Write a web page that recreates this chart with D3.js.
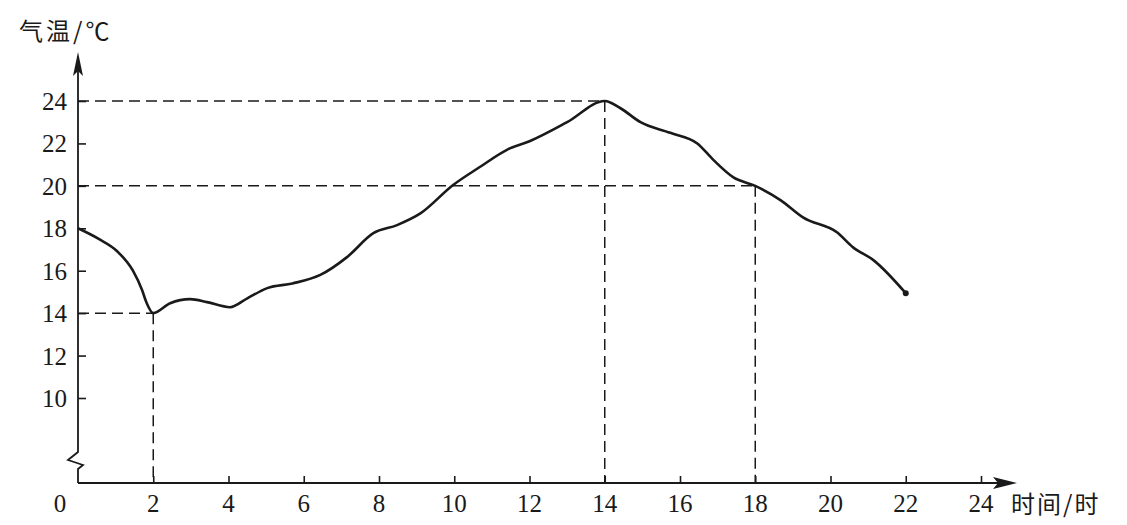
<!DOCTYPE html>
<html><head><meta charset="utf-8">
<script src="https://cdn.jsdelivr.net/npm/d3@7"></script>
<style>body{margin:0;background:#fff}svg{display:block}</style>
</head><body>
<svg id="c" width="1127" height="525"></svg>
<script>
const hours = [0,0.55,1.04,1.46,1.7,1.82,2,2.45,2.98,3.43,4.04,4.5,5.03,5.7,6.44,7.15,7.85,8.48,9.1,9.97,10.69,11.4,12,13,14,14.41,14.95,15.74,16.46,16.9,17.42,18,18.67,19.28,20.18,20.6,21.14,22];
const temps = [18,17.5,16.92,16.0,15.1,14.5,14,14.47,14.66,14.52,14.28,14.7,15.18,15.4,15.8,16.64,17.77,18.15,18.7,20.04,20.9,21.7,22.1,23.0,24,23.67,23.0,22.5,22.0,21.2,20.4,20.0,19.33,18.5,17.8,17.1,16.5,14.94];
const xTicks = [2,4,6,8,10,12,14,16,18,20,22,24];
const yTicks = [10,12,14,16,18,20,22,24];
const marks = [{h:2,t:14},{h:14,t:24},{h:18,t:20}];
const yLabel = "气温/℃";
const xLabel = "时间/时";

const svg = d3.select("#c");
const x = d3.scaleLinear().domain([0,24]).range([78,981]);
const y = d3.scaleLinear().domain([10,24]).range([398,101]);
const y0 = 483;
const ax = x(0);
const ink = "#1a1a1a";
const numFont = "'Liberation Serif', 'Times New Roman', serif";
const cjkFont = "'Noto Sans CJK SC', sans-serif";

const dash = "11,6";
marks.forEach(m=>{
  svg.append("line").attr("x1",ax).attr("x2",x(m.h)).attr("y1",y(m.t)).attr("y2",y(m.t))
    .attr("stroke",ink).attr("stroke-width",1.5).attr("stroke-dasharray",dash);
  svg.append("line").attr("x1",x(m.h)).attr("x2",x(m.h)).attr("y1",y(m.t)).attr("y2",y0)
    .attr("stroke",ink).attr("stroke-width",1.5).attr("stroke-dasharray",dash);
});

const yAxisPath = d3.path();
yAxisPath.moveTo(ax,68);
yAxisPath.lineTo(ax,452);
yAxisPath.lineTo(ax-10,460);
yAxisPath.lineTo(ax+5,465);
yAxisPath.lineTo(ax,469);
yAxisPath.lineTo(ax,y0);
svg.append("path").attr("d",yAxisPath.toString()).attr("fill","none").attr("stroke",ink).attr("stroke-width",1.8);
svg.append("path").attr("d",`M${ax},52 L${ax-5},76 L${ax},71 L${ax+5},76 Z`).attr("fill",ink);

svg.append("line").attr("x1",ax).attr("x2",1005).attr("y1",y0).attr("y2",y0).attr("stroke",ink).attr("stroke-width",2);
svg.append("path").attr("d",`M1017,${y0} L993,${y0-6} L998,${y0} L993,${y0+6} Z`).attr("fill",ink);

const yAx = d3.axisRight(y).tickValues(yTicks).tickSize(8).tickFormat("");
const gy = svg.append("g").attr("transform",`translate(${ax},0)`).call(yAx);
gy.select(".domain").remove();
gy.selectAll("line").attr("stroke",ink).attr("stroke-width",1.6);
svg.selectAll(".ylab").data(yTicks).enter().append("text")
  .style("font-family",numFont)
  .attr("x",67).attr("y",d=>y(d)+9).attr("text-anchor","end")
  .attr("font-size",25).attr("fill",ink).text(d=>d);

const xAx = d3.axisTop(x).tickValues(xTicks).tickSize(7).tickFormat("");
const gx = svg.append("g").attr("transform",`translate(0,${y0})`).call(xAx);
gx.select(".domain").remove();
gx.selectAll("line").attr("stroke",ink).attr("stroke-width",1.6);
svg.selectAll(".xlab").data([0].concat(xTicks)).enter().append("text")
  .style("font-family",numFont)
  .attr("x",d=>d===0?60:x(d)).attr("y",512).attr("text-anchor","middle")
  .attr("font-size",25).attr("fill",ink).text(d=>d);

svg.append("text").style("font-family",cjkFont).attr("x",19).attr("y",40).attr("font-size",24).attr("letter-spacing",3).attr("fill",ink).text(yLabel);
svg.append("text").style("font-family",cjkFont).attr("x",1011).attr("y",513).attr("font-size",24).attr("letter-spacing",2).attr("fill",ink).text(xLabel);

const data = hours.map((h,i)=>({h,t:temps[i]}));
const line = d3.line().x(d=>x(d.h)).y(d=>y(d.t)).curve(d3.curveMonotoneX);
svg.append("path").datum(data).attr("d",line).attr("fill","none").attr("stroke",ink).attr("stroke-width",2.6).attr("stroke-linejoin","round");
svg.append("circle").attr("cx",x(22)).attr("cy",y(14.94)).attr("r",3).attr("fill",ink);
</script>
</body></html>
